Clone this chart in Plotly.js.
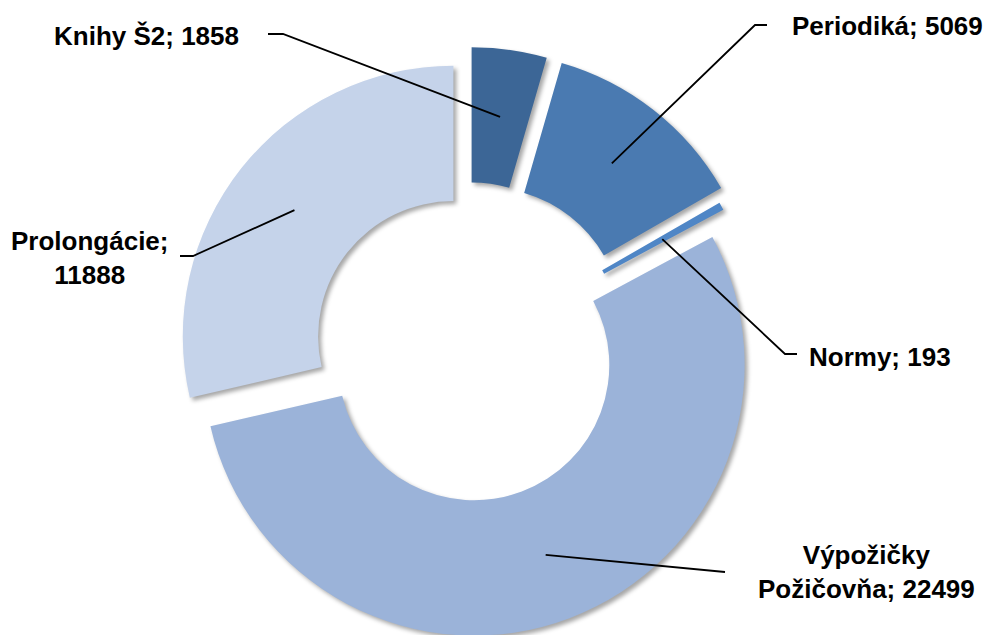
<!DOCTYPE html>
<html>
<head>
<meta charset="utf-8">
<script src="https://cdn.plot.ly/plotly-3.0.1.min.js"></script>
<style>
  html, body { margin: 0; padding: 0; overflow: hidden; background: #fff; }
  #chart { width: 988px; height: 660px; }
  .js-plotly-plot .pielayer path.surface { filter: drop-shadow(3px 3px 2px rgba(0,0,0,0.35)); }
</style>
</head>
<body>
<div id="chart"></div>
<script>
// ---- data ----
const categories = ['Knihy Š2', 'Periodiká', 'Normy', 'Výpožičky Požičovňa', 'Prolongácie'];
const values = [1858, 5069, 193, 22499, 11888];
const labelLines = ['Knihy Š2; 1858', 'Periodiká; 5069', 'Normy; 193', 'Výpožičky<br>Požičovňa; 22499', 'Prolongácie;<br>11888'];

// ---- styling ----
const colors = ['#3C6696', '#4A7AB1', '#4F86C6', '#9BB3D9', '#C5D3EA'];
const pulls = [0.111, 0.115, 0.074, 0.069, 0.066];

const W = 988, H = 660;
const domX = [0.16766, 0.77849];
const domY = [0.01629, 0.93068];
const holeFrac = 0.5;

// label centres and leader-line elbows (pixel positions of page)
const labelPos = [[146, 36], [887, 26], [880, 357], [866, 572], [89, 258]];
const elbows = [
  [[283, 34], [268, 34]],
  [[755, 25], [767, 25]],
  [[785, 354], [797, 354]],
  [[725, 572], [725, 572]],
  [[193, 256], [180, 256]]
];

// geometry as plotly computes it, to attach leader lines to slice middles
const maxPull = Math.max(...pulls);
const S = Math.min(W * (domX[1] - domX[0]), H * (domY[1] - domY[0]));
const R = S / 2 / (1 + maxPull);
const cx = W * (domX[0] + domX[1]) / 2;
const cy = H * (1 - (domY[0] + domY[1]) / 2);
const total = values.reduce((a, b) => a + b, 0);
const px = x => x / W, py = y => 1 - y / H;

const shapes = [], annotations = [];
let cum = 0;
values.forEach((v, i) => {
  const mid = (cum + v / 2) / total * 2 * Math.PI;
  cum += v;
  const dx = Math.sin(mid), dy = -Math.cos(mid);
  const rr = pulls[i] * R + R * (1 + holeFrac) / 2;
  const tx = cx + rr * dx, ty = cy + rr * dy;
  const [e1, e2] = elbows[i];
  shapes.push({
    type: 'path', xref: 'paper', yref: 'paper',
    path: `M ${px(tx)},${py(ty)} L ${px(e1[0])},${py(e1[1])} L ${px(e2[0])},${py(e2[1])}`,
    line: { color: '#000', width: 1.8 }
  });
  annotations.push({
    xref: 'paper', yref: 'paper', x: px(labelPos[i][0]), y: py(labelPos[i][1]),
    xanchor: 'center', yanchor: 'middle', showarrow: false, align: 'center',
    text: '<b>' + labelLines[i] + '</b>',
    font: { family: 'Liberation Sans, Arial, sans-serif', size: 26, color: '#000' }
  });
});

const trace = {
  type: 'pie',
  labels: categories,
  values: values,
  sort: false,
  direction: 'clockwise',
  rotation: 0,
  hole: holeFrac,
  pull: pulls,
  marker: { colors: colors, line: { width: 0 } },
  textinfo: 'none',
  hoverinfo: 'label+value',
  domain: { x: domX, y: domY },
  showlegend: false
};

Plotly.newPlot('chart', [trace], {
  width: W, height: H,
  margin: { l: 0, r: 0, t: 0, b: 0 },
  paper_bgcolor: '#fff',
  showlegend: false,
  shapes: shapes,
  annotations: annotations
}, { staticPlot: true });
</script>
</body>
</html>
